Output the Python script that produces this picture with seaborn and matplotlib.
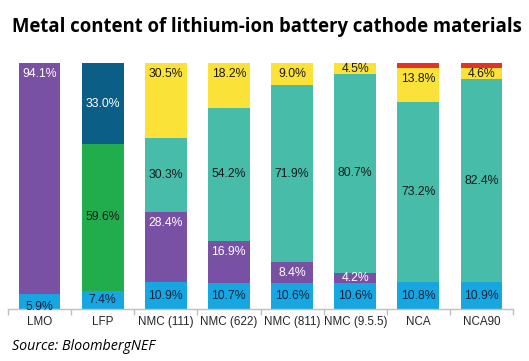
import matplotlib
matplotlib.use("Agg")
import matplotlib.pyplot as plt
import seaborn as sns
import numpy as np
import pandas as pd

categories = ["LMO", "LFP", "NMC (111)", "NMC (622)", "NMC (811)", "NMC (9.5.5)", "NCA", "NCA90"]
lithium    = [5.9, 7.4, 10.9, 10.7, 10.6, 10.6, 10.8, 10.9]
manganese  = [94.1, 0.0, 28.4, 16.9, 8.4, 4.2, 0.0, 0.0]
iron       = [0.0, 59.6, 0.0, 0.0, 0.0, 0.0, 0.0, 0.0]
phosphate  = [0.0, 33.0, 0.0, 0.0, 0.0, 0.0, 0.0, 0.0]
nickel     = [0.0, 0.0, 30.3, 54.2, 71.9, 80.7, 73.2, 82.4]
cobalt     = [0.0, 0.0, 30.5, 18.2, 9.0, 4.5, 13.8, 4.6]
aluminium  = [0.0, 0.0, 0.0, 0.0, 0.0, 0.0, 2.2, 2.1]

series_names = ["Lithium", "Manganese", "Iron", "Phosphate", "Nickel", "Cobalt", "Aluminium"]
series_vals = [lithium, manganese, iron, phosphate, nickel, cobalt, aluminium]
colors = ["#16a7e2", "#7851a4", "#21ad4b", "#0b5f86", "#46bca9", "#fbe239", "#e53228"]
text_colors = ["#16243e", "white", "#1a1a1a", "white", "#1a1a1a", "#1a1a1a", "#1a1a1a"]
label_mode = ["center", "top", "center", "center", "center", "top", None]

sns.set_style("white")
plt.rcParams["font.family"] = ["Liberation Sans", "DejaVu Sans"]

fig = plt.figure(figsize=(5.29, 3.61), dpi=100)
ax = fig.add_axes([8/529, 1 - 309/361, 505/529, 246/361])

vals = np.array(series_vals)
cums = np.cumsum(vals, axis=0)

# draw cumulative bars from top layer down
for k in range(len(series_names) - 1, -1, -1):
    df = pd.DataFrame({"cat": categories, "val": cums[k]})
    sns.barplot(data=df, x="cat", y="val", order=categories, color=colors[k],
                saturation=1, width=0.66, ax=ax, edgecolor="none", linewidth=0)

# labels
for k, name in enumerate(series_names):
    mode = label_mode[k]
    if mode is None:
        continue
    for i in range(len(categories)):
        v = vals[k][i]
        if v <= 0:
            continue
        top = cums[k][i]
        if mode == "center":
            y = top - v / 2
        else:
            y = top - min(4.4, v / 2)
        if k == 0 and v < 7:
            y = top - v / 2 - 2.3
        ax.text(i, y, f"{v:.1f}%", ha="center", va="center", fontsize=8.8,
                color=text_colors[k])

ax.set_xlim(-0.5, len(categories) - 0.5)
ax.set_ylim(0, 100)
ax.set_xlabel("")
ax.set_ylabel("")
ax.set_yticks([])
for s in ["top", "right", "left"]:
    ax.spines[s].set_visible(False)
ax.spines["bottom"].set_color("#bfbfbf")
ax.spines["bottom"].set_linewidth(1.0)
ax.set_xticks(np.arange(len(categories)))
ax.set_xticklabels(categories, fontsize=8.4, color="#262626")
ax.set_xticks(np.arange(len(categories) + 1) - 0.5, minor=True)
ax.tick_params(axis="x", which="major", length=0, pad=5)
ax.tick_params(axis="x", which="minor", length=4, color="#bfbfbf", width=1, direction="out")
ax.tick_params(axis="x", which="both", bottom=True)

fig.text(12/529, 1 - 27/361, "Metal content of lithium-ion battery cathode materials",
         fontsize=13.35, fontweight="bold", family=["Open Sans", "DejaVu Sans"],
         ha="left", va="center", color="black")
fig.text(12/529, 1 - 347/361, "Source: BloombergNEF", fontsize=10.3, style="italic",
         family=["Open Sans", "DejaVu Sans"], ha="left", va="center", color="black")

fig.savefig("out.png", dpi=100, facecolor="white")
